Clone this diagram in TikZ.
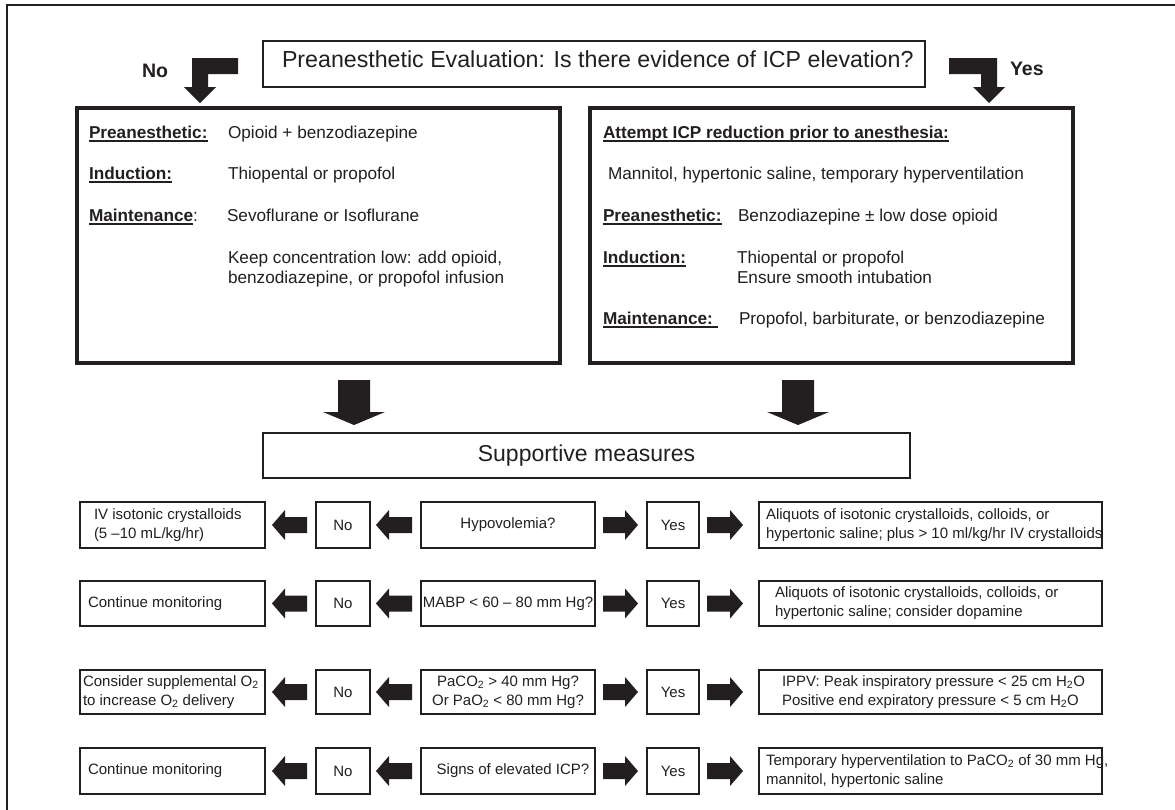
\documentclass[tikz,border=0pt]{standalone}
\usepackage{fontspec}
\setmainfont{Liberation Sans}
\usetikzlibrary{calc}

\definecolor{ink}{RGB}{35,31,32}

\newcommand\fsTitle{\fontsize{23.2}{28}\selectfont}
\newcommand\fsSup{\fontsize{23}{28}\selectfont}
\newcommand\fsBig{\fontsize{17.2}{20}\selectfont}
\newcommand\fsRow{\fontsize{15}{19}\selectfont}
\newcommand\fsLab{\fontsize{19.5}{23}\selectfont\bfseries}

% bold heading with a heavy underline
\newsavebox{\ulbox}
\newcommand\ulbar[1]{\sbox\ulbox{\bfseries #1}\rlap{\rule[-4pt]{\wd\ulbox}{1.8pt}}\usebox\ulbox}

% filled block arrow from #1 (tail) to #2 (tip):
% #3 shaft half width, #4 head half width, #5 head length
\newcommand\blockarrow[5]{%
  \fill[ink] let \p1=#1, \p2=#2,
    \n1={veclen(\x2-\x1,\y2-\y1)}, \n2={(\x2-\x1)/\n1}, \n3={(\y2-\y1)/\n1}
  in ({\x1-(#3)*\n3},{\y1+(#3)*\n2})
  -- ({\x2-(#5)*\n2-(#3)*\n3},{\y2-(#5)*\n3+(#3)*\n2})
  -- ({\x2-(#5)*\n2-(#4)*\n3},{\y2-(#5)*\n3+(#4)*\n2})
  -- (\p2)
  -- ({\x2-(#5)*\n2+(#4)*\n3},{\y2-(#5)*\n3-(#4)*\n2})
  -- ({\x2-(#5)*\n2+(#3)*\n3},{\y2-(#5)*\n3-(#3)*\n2})
  -- ({\x1+(#3)*\n3},{\y1-(#3)*\n2})
  -- cycle;}

\begin{document}
\begin{tikzpicture}[x=1pt,y=-1pt,
  every node/.style={inner sep=0pt,outer sep=0pt,text=ink},
  bigbox/.style={draw=ink,line width=4.5pt},
  thinbox/.style={draw=ink,line width=2.4pt},
  bigtxt/.style={anchor=base west,font=\fsBig},
  rowtxt/.style={anchor=west,align=left,font=\fsRow},
  colA/.style={thinbox,minimum width=185pt},
  colN/.style={thinbox,minimum width=54pt,font=\fsRow},
  colQ/.style={thinbox,minimum width=174pt,font=\fsRow,align=center},
  colY/.style={thinbox,minimum width=52pt,font=\fsRow},
  colR/.style={thinbox,minimum width=343pt}]

\useasboundingbox (0,0) rectangle (1175,809);
\fill[white] (0,0) rectangle (1175,809);

% outer frame (open at the bottom and right)
\draw[ink,line width=2.6pt] (7,840) -- (7,5) -- (1200,5);

% ---- question at the top ----
\node[thinbox,minimum width=662pt,minimum height=46pt] (title) at (594,64) {};
\node[anchor=base west,font=\fsTitle] (titletxt) at (282,67.5)
  {Preanesthetic Evaluation: Is there evidence of ICP elevation?};

\node[anchor=base west,font=\fsLab] (nolab) at (142,77) {No};
\node[anchor=base west,font=\fsLab] (yeslab) at (1010,75) {Yes};

% elbow arrows leaving the question box
\coordinate (eL) at ($(title.west)+(-25,2)$);
\fill[ink] (eL) ++(0,-8) -- ++(-46,0) -- ++(0,29) -- ++(-8,0) -- ++(16,16)
  -- ++(16,-16) -- ++(-8,0) -- ++(0,-13) -- ++(30,0) -- cycle;
\coordinate (eR) at ($(title.east)+(24,2)$);
\fill[ink] (eR) ++(0,-8) -- ++(48,0) -- ++(0,29) -- ++(8,0) -- ++(-16,16)
  -- ++(-16,-16) -- ++(8,0) -- ++(0,-13) -- ++(-32,0) -- cycle;

% ---- no elevation ----
\node[bigbox,minimum width=483pt,minimum height=255pt] (lbox) at (318.5,235.5) {};
\node[bigtxt] (l1a) at (89,138) {\ulbar{Preanesthetic:}};
\node[bigtxt] (l1b) at (228,138) {Opioid + benzodiazepine};
\node[bigtxt] (l2a) at (89,179) {\ulbar{Induction:}};
\node[bigtxt] (l2b) at (228,179) {Thiopental or propofol};
\node[bigtxt] (l3a) at (89,221) {\ulbar{Maintenance}:};
\node[bigtxt] (l3b) at (227,221) {Sevoflurane or Isoflurane};
\node[bigtxt] (l4a) at (228,263) {Keep concentration low: add opioid,};
\node[bigtxt] (l4b) at (228,283) {benzodiazepine, or propofol infusion};

% ---- elevation ----
\node[bigbox,minimum width=483pt,minimum height=255pt] (rbox) at (831.5,235.5) {};
\node[bigtxt] (r0) at (603,138) {\ulbar{Attempt ICP reduction prior to anesthesia:}};
\node[bigtxt] (r1) at (608,179) {Mannitol, hypertonic saline, temporary hyperventilation};
\node[bigtxt] (r2a) at (603,221) {\ulbar{Preanesthetic:}};
\node[bigtxt] (r2b) at (738,221) {Benzodiazepine ± low dose opioid};
\node[bigtxt] (r3a) at (603,263) {\ulbar{Induction:}};
\node[bigtxt] (r3b) at (737,263) {Thiopental or propofol};
\node[bigtxt] (r3c) at (737,283) {Ensure smooth intubation};
\node[bigtxt] (r4a) at (603,324) {\ulbar{Maintenance:\ }};
\node[bigtxt] (r4b) at (739,324) {Propofol, barbiturate, or benzodiazepine};

% ---- supportive measures ----
\node[thinbox,minimum width=647pt,minimum height=45pt,font=\fsSup] (sup) at (586.5,455.5)
  {Supportive measures};

\blockarrow{($(lbox.south west)+(277,17)$)}{($(sup.north west)+(91,-8)$)}{16}{31}{13}
\blockarrow{($(rbox.south west)+(208,17)$)}{($(sup.north west)+(535,-8)$)}{16}{31}{13}

% ---- row 1 ----
\node[colA,minimum height=46pt] (a1) at (172.5,525) {};
\node[colN,minimum height=46pt] (n1) at (343,525) {No};
\node[colQ,minimum height=46pt] (q1) at (508,525) {Hypovolemia?};
\node[colY,minimum height=46pt] (y1) at (673,525) {Yes};
\node[colR,minimum height=46pt] (z1) at (930.5,525) {};
\node[rowtxt] (a1t) at ($(a1.west)+(14,0)$) {IV isotonic crystalloids\\(5 –10 mL/kg/hr)};
\node[rowtxt] (z1t) at ($(z1.west)+(7,0)$)
  {Aliquots of isotonic crystalloids, colloids, or\\hypertonic saline; plus > 10 ml/kg/hr IV crystalloids};

% ---- row 2 ----
\node[colA,minimum height=45pt] (a2) at (172.5,603.5) {};
\node[colN,minimum height=45pt] (n2) at (343,603.5) {No};
\node[colQ,minimum height=45pt] (q2) at (508,603.5) {MABP < 60 – 80 mm Hg?};
\node[colY,minimum height=45pt] (y2) at (673,603.5) {Yes};
\node[colR,minimum height=45pt] (z2) at (930.5,603.5) {};
\node[rowtxt] (a2t) at ($(a2.west)+(8,0)$) {Continue monitoring};
\node[rowtxt] (z2t) at ($(z2.west)+(16,0)$)
  {Aliquots of isotonic crystalloids, colloids, or\\hypertonic saline; consider dopamine};

% ---- row 3 ----
\node[colA,minimum height=44pt] (a3) at (172.5,692) {};
\node[colN,minimum height=44pt] (n3) at (343,692) {No};
\node[colQ,minimum height=44pt] (q3) at (508,692)
  {PaCO\textsubscript{2} > 40 mm Hg?\\Or PaO\textsubscript{2} < 80 mm Hg?};
\node[colY,minimum height=44pt] (y3) at (673,692) {Yes};
\node[colR,minimum height=44pt] (z3) at (930.5,692) {};
\node[rowtxt] (a3t) at ($(a3.west)+(3,0)$)
  {Consider supplemental O\textsubscript{2}\\to increase O\textsubscript{2} delivery};
\node[rowtxt] (z3t) at ($(z3.west)+(23,0)$)
  {IPPV: Peak inspiratory pressure < 25 cm H\textsubscript{2}O\\Positive end expiratory pressure < 5 cm H\textsubscript{2}O};

% ---- row 4 ----
\node[colA,minimum height=46pt] (a4) at (172.5,771) {};
\node[colN,minimum height=46pt] (n4) at (343,771) {No};
\node[colQ,minimum height=46pt] (q4) at (508,771) {\hspace*{10pt}Signs of elevated ICP?};
\node[colY,minimum height=46pt] (y4) at (673,771) {Yes};
\node[colR,minimum height=46pt] (z4) at (930.5,771) {};
\node[rowtxt] (a4t) at ($(a4.west)+(8,0)$) {Continue monitoring};
\node[rowtxt] (z4t) at ($(z4.west)+(7,0)$)
  {Temporary hyperventilation to PaCO\textsubscript{2} of 30 mm Hg,\\mannitol, hypertonic saline};

% ---- arrows along the rows ----
\foreach \i in {1,2,3,4}{
  \blockarrow{($(n\i.west)+(-9,0)$)}{($(a\i.east)+(7,0)$)}{8}{15}{13}
  \blockarrow{($(q\i.west)+(-9,0)$)}{($(n\i.east)+(6,0)$)}{8}{15}{13}
  \blockarrow{($(q\i.east)+(8,0)$)}{($(y\i.west)+(-9,0)$)}{8}{15}{13}
  \blockarrow{($(y\i.east)+(8,0)$)}{($(z\i.west)+(-16,0)$)}{8}{15}{13}
}
\end{tikzpicture}
\end{document}
